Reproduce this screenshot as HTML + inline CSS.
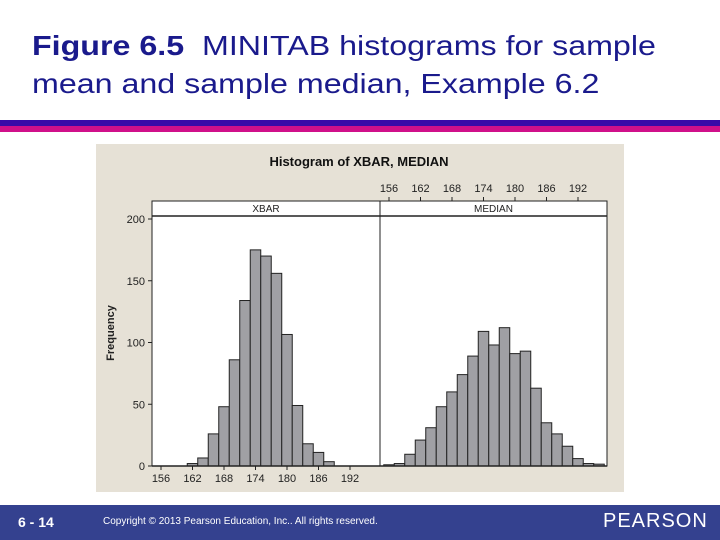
<!DOCTYPE html>
<html><head><meta charset="utf-8"><style>
body{margin:0;width:720px;height:540px;background:#fff;position:relative;overflow:hidden;font-family:"Liberation Sans",sans-serif}
#title{position:absolute;left:32px;top:27px;font-size:28px;line-height:38px;color:#1a1a8c;transform:scaleX(1.15);transform-origin:0 0;white-space:nowrap}
#footer{position:absolute;left:0;top:505px;width:720px;height:35px;background:#34418f;color:#fff}
</style></head><body>
<div id="title"><b>Figure 6.5</b>&nbsp; MINITAB histograms for sample<br>mean and sample median, Example 6.2</div>
<div style="position:absolute;left:0;top:120px;width:720px;height:6px;background:#3a0aa8"></div>
<div style="position:absolute;left:0;top:126px;width:720px;height:6px;background:#d0108a"></div>
<svg id="chart" width="720" height="540" style="position:absolute;left:0;top:0" font-family="Liberation Sans, sans-serif"></svg>
<div id="footer">
<span style="position:absolute;left:18px;top:9px;font-size:14px;font-weight:bold">6 - 14</span>
<span style="position:absolute;left:103px;top:11px;font-size:10px">Copyright © 2013 Pearson Education, Inc.. All rights reserved.</span>
<span style="position:absolute;left:603px;top:5px;font-size:20px;letter-spacing:1px">PEARSON</span>
</div>
<script>
const bins=[156,158,160,162,164,166,168,170,172,174,176,178,180,182,184,186,188,190,192,194,196];
const xbarCounts=[0,0,0,2,6.5,26,48,86,134,175,170,156,106.5,49,18,11,3.5,0,0,0,0];
const medianCounts=[1,2,9.5,21,31,48,60,74,89,109,98,112,91,93,63,35,26,16,6,2,1.5];
const xTicks=[156,162,168,174,180,186,192];
const yTicks=[0,50,100,150,200];
const NS="http://www.w3.org/2000/svg";
const svg=document.getElementById('chart');
function mk(t,a,p){const e=document.createElementNS(NS,t);for(const k in a)e.setAttribute(k,a[k]);(p||svg).appendChild(e);return e;}
const base=466, top0=201, stripB=216;
function y(v){return base-v*1.235;}
function xL(v,off){return 161+off+(v-156)*5.25;}
const bg=mk('rect',{x:96,y:144,width:528,height:348,fill:'#e6e1d6'});

const t=mk('text',{x:359,y:166,'text-anchor':'middle','font-size':13,'font-weight':'bold',fill:'#111'});t.textContent='Histogram of XBAR, MEDIAN';

const panels=[{name:'XBAR',off:0,data:xbarCounts,x0:152,x1:380},{name:'MEDIAN',off:228,data:medianCounts,x0:380,x1:607}];
panels.forEach((p,pi)=>{
 const r=mk('rect',{x:p.x0,y:top0,width:p.x1-p.x0,height:base-top0,fill:'#fff',stroke:'#222','stroke-width':1});
 
 mk('line',{x1:p.x0,x2:p.x1,y1:stripB,y2:stripB,stroke:'#222','stroke-width':1.5});
 const st=mk('text',{x:(p.x0+p.x1)/2,y:212,'text-anchor':'middle','font-size':10,fill:'#222'});st.textContent=p.name;
 
 p.data.forEach((v,i)=>{ if(v<=0)return;
  const b=mk('rect',{x:xL(bins[i]-1,p.off),y:y(v),width:10.5,height:base-y(v),fill:'#a0a0a4',stroke:'#222','stroke-width':1});
  
 });
 xTicks.forEach(v=>{
  const X=xL(v,p.off);
  if(pi===0){mk('line',{x1:X,x2:X,y1:base,y2:base+4,stroke:'#222'});
   const tl=mk('text',{x:X,y:482,'text-anchor':'middle','font-size':11,fill:'#222'});tl.textContent=v;
   }
  else{mk('line',{x1:X,x2:X,y1:top0-4,y2:top0,stroke:'#222'});
   const tl=mk('text',{x:X,y:192,'text-anchor':'middle','font-size':11,fill:'#222'});tl.textContent=v;
   }
 });
});
mk('line',{x1:152,x2:607,y1:base,y2:base,stroke:'#222','stroke-width':1.5});
yTicks.forEach(v=>{
 mk('line',{x1:148,x2:152,y1:y(v),y2:y(v),stroke:'#222'});
 const tl=mk('text',{x:145,y:y(v)+4,'text-anchor':'end','font-size':11,fill:'#222'});tl.textContent=v;
 
});
const yt=mk('text',{x:0,y:0,transform:'translate(114,333) rotate(-90)','text-anchor':'middle','font-size':11,'font-weight':'bold',fill:'#222'});yt.textContent='Frequency';

</script>
</body></html>
